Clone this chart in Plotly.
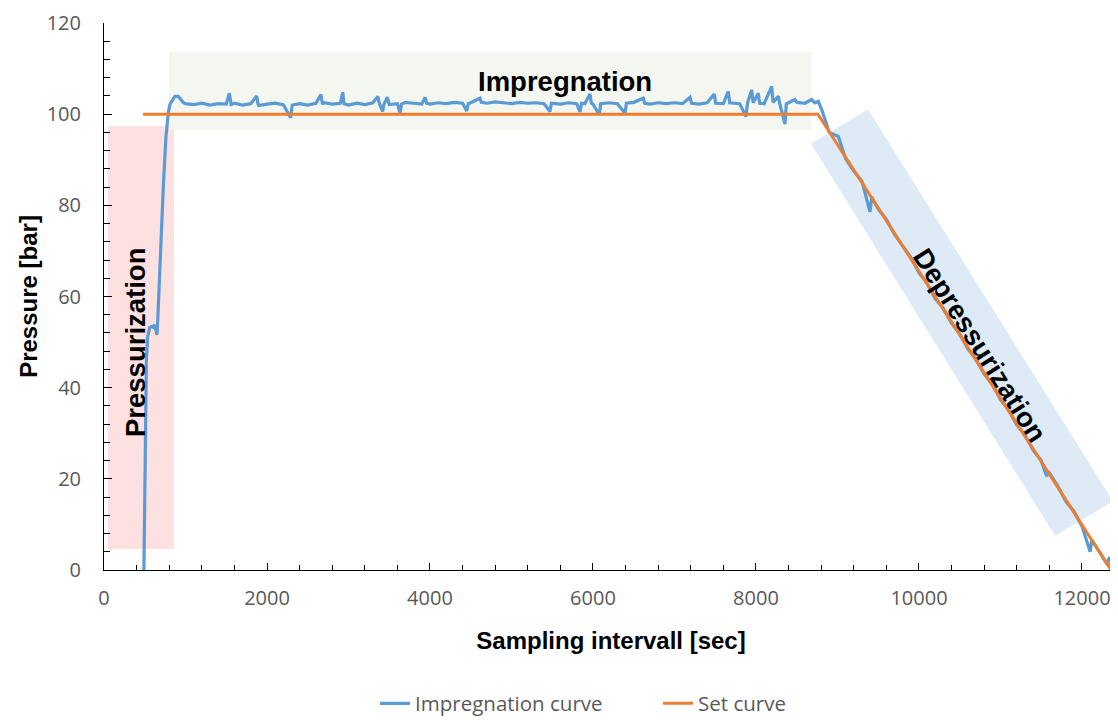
import plotly.graph_objects as go

# ---- data ----
imp_time = [490, 500, 510, 520, 535, 548, 560, 580, 600, 620, 640, 650, 660, 680, 700, 730, 760, 790, 810, 840, 870, 912, 940, 970,
            1000, 1100, 1200, 1300, 1400, 1500, 1538, 1560, 1600, 1700, 1800, 1873, 1890, 1900, 2000, 2100, 2200, 2290, 2310,
            2400, 2500, 2600, 2662, 2680, 2700, 2800, 2900, 2929, 2945, 3000, 3100, 3200, 3300, 3358, 3380, 3419, 3435, 3477,
            3495, 3500, 3600, 3632, 3650, 3700, 3800, 3900, 3939, 3960, 4000, 4100, 4200, 4300, 4400, 4450, 4470, 4500, 4613,
            4630, 4700, 4800, 4900, 5000, 5100, 5200, 5300, 5400, 5472, 5490, 5600, 5700, 5800, 5840, 5860, 5900, 5963, 5980,
            6000, 6077, 6095, 6200, 6300, 6393, 6410, 6500, 6617, 6635, 6700, 6800, 6900, 7000, 7100, 7190, 7210, 7300, 7400,
            7488, 7505, 7600, 7660, 7678, 7800, 7877, 7895, 7947, 7965, 8028, 8045, 8100, 8192, 8210, 8274, 8290, 8356, 8372,
            8478, 8500, 8600, 8683, 8720, 8765, 8806,
            8900, 9010, 9100, 9200, 9300, 9399, 9420, 9500, 9600, 9700, 9800, 9900, 10000, 10100, 10200, 10300, 10400, 10500,
            10600, 10700, 10800, 10900, 11000, 11100, 11200, 11300, 11400, 11500, 11567, 11590, 11700, 11800, 11900, 12000,
            12100, 12120, 12200, 12300, 12340, 12356]
imp_pressure = [0, 15, 32, 46, 51, 52.8, 53.2, 53.4, 53.3, 53.8, 52.5, 51.6, 55, 64.4, 73, 85, 95, 100.5, 102.2, 103.2, 103.9, 103.9, 103.2, 102.6,
                102.3, 102.1, 102.4, 102.0, 102.3, 102.2, 104.6, 102.1, 102.4, 102.0, 102.3, 104.0, 102.2, 101.9, 102.2, 102.4, 102.1, 99.2, 102.0,
                102.3, 102.0, 102.4, 104.3, 102.2, 102.5, 102.2, 102.4, 104.8, 102.3, 102.0, 102.4, 102.1, 102.5, 103.9, 102.3, 100.6, 102.2, 103.7,
                102.4, 102.1, 102.3, 100.2, 102.2, 102.6, 102.4, 102.2, 103.7, 102.4, 102.2, 102.5, 102.3, 102.6, 102.4, 100.7, 102.3, 102.5, 103.5,
                102.6, 102.4, 102.7, 102.5, 102.3, 102.6, 102.4, 102.5, 102.3, 100.6, 102.4, 102.2, 102.5, 102.3, 100.5, 102.4, 102.3, 104.4, 102.4,
                102.2, 99.9, 102.3, 102.5, 102.3, 100.2, 102.4, 102.6, 103.5, 102.4, 102.2, 102.5, 102.3, 102.5, 102.3, 103.7, 102.4, 102.2, 102.5,
                104.4, 102.4, 102.3, 105.0, 102.5, 102.3, 99.5, 102.4, 105.3, 102.5, 104.6, 102.4, 102.3, 106.1, 102.6, 103.9, 102.4, 97.8, 102.3,
                103.2, 102.6, 102.4, 103.2, 102.5, 102.8, 101.0,
                96.0, 95.1, 90.2, 87.5, 85.3, 78.6, 81.8, 79.2, 76.9, 73.6, 71.0, 68.6, 65.2, 62.9, 59.5, 57.4, 54.1, 51.8,
                48.5, 46.2, 43.0, 40.8, 37.4, 35.1, 31.8, 29.6, 26.3, 24.0, 20.6, 21.6, 18.5, 15.1, 12.9, 9.6,
                4.0, 6.6, 4.4, 1.5, 2.8, 0]

set_time = [480, 8760, 12356]
set_pressure = [100, 100, 0]

x_ticks = [0, 2000, 4000, 6000, 8000, 10000, 12000]
y_ticks = [0, 20, 40, 60, 80, 100, 120]

# phase regions (data coordinates)
press_box = dict(x0=45, x1=859, y0=4.6, y1=97.4)
impreg_box = dict(x0=797, x1=8683, y0=96.6, y1=113.6)
depress_corners_t = [9374, 8675, 11669, 12380]
depress_corners_p = [101.1, 93.5, 7.5, 15.1]

BLUE = "#5B9BD5"
ORANGE = "#ED7D31"
GRAY = "#595959"

fig = go.Figure()
fig.add_trace(go.Scatter(x=imp_time, y=imp_pressure, mode="lines", name="Impregnation curve",
                         line=dict(color=BLUE, width=3.2)))
fig.add_trace(go.Scatter(x=set_time, y=set_pressure, mode="lines", name="Set curve",
                         line=dict(color=ORANGE, width=3)))

fig.add_shape(type="rect", xref="x", yref="y", layer="below", line_width=0,
              fillcolor="#FDE1E1", **press_box)
fig.add_shape(type="rect", xref="x", yref="y", layer="below", line_width=0,
              fillcolor="#F4F7EF", **impreg_box)
path = "M " + " L ".join(f"{t},{p}" for t, p in zip(depress_corners_t, depress_corners_p)) + " Z"
fig.add_shape(type="path", path=path, xref="x", yref="y", layer="below", line_width=0,
              fillcolor="#DEEBF7")

ann_font = dict(family="Liberation Sans, Arial", size=27.5, color="black")
fig.add_annotation(x=5660, y=107.1, xref="x", yref="y", text="<b>Impregnation</b>", showarrow=False, font=ann_font)
fig.add_annotation(x=380, y=50.0, xref="x", yref="y", text="<b>Pressurization</b>", showarrow=False,
                   textangle=-90, font=ann_font)
fig.add_annotation(x=10748, y=49.2, xref="x", yref="y", text="<b>Depressurization</b>", showarrow=False,
                   textangle=57.5, font=ann_font)

tick_font = dict(family="Open Sans, Noto Sans, sans-serif", size=20, color=GRAY)
title_font = dict(family="Liberation Sans, Arial", size=24, color="black")

fig.update_xaxes(range=[0, 12442], tickvals=x_ticks, ticktext=[str(v) for v in x_ticks],
                 showline=True, linecolor="black", linewidth=1, ticks="inside", ticklen=7,
                 tickcolor="black", tickwidth=1, ticklabelstandoff=10, automargin=False,
                 minor=dict(dtick=400, ticks="inside", ticklen=5, tickcolor="black", tickwidth=1),
                 showgrid=False, zeroline=False, tickfont=tick_font,
                 title=dict(text="<b>Sampling intervall [sec]</b>", font=title_font, standoff=22))
fig.update_yaxes(range=[0, 120], tickvals=y_ticks, ticktext=[str(v) for v in y_ticks],
                 showline=True, linecolor="black", linewidth=1, ticks="inside", ticklen=8,
                 tickcolor="black", tickwidth=1, ticklabelstandoff=18, automargin=False,
                 minor=dict(dtick=4, ticks="inside", ticklen=6, tickcolor="black", tickwidth=1),
                 showgrid=False, zeroline=False, tickfont=tick_font,
                 title=dict(text="<b>Pressure [bar]</b>", font=title_font, standoff=2))

# the page body adds an 8 px margin, so the figure is 8 px smaller and margins shifted
fig.update_layout(
    width=1110, height=712,
    margin=dict(l=96, r=0, t=15, b=150, autoexpand=False),
    plot_bgcolor="white", paper_bgcolor="white",
    showlegend=True,
    legend=dict(orientation="h", x=0.2673, y=-0.244, xanchor="left", yanchor="middle",
                entrywidth=238, entrywidthmode="pixels",
                font=dict(family="Open Sans, Noto Sans, sans-serif", size=20.5, color=GRAY),
                bgcolor="rgba(0,0,0,0)"),
)

fig.write_html("out.html")
